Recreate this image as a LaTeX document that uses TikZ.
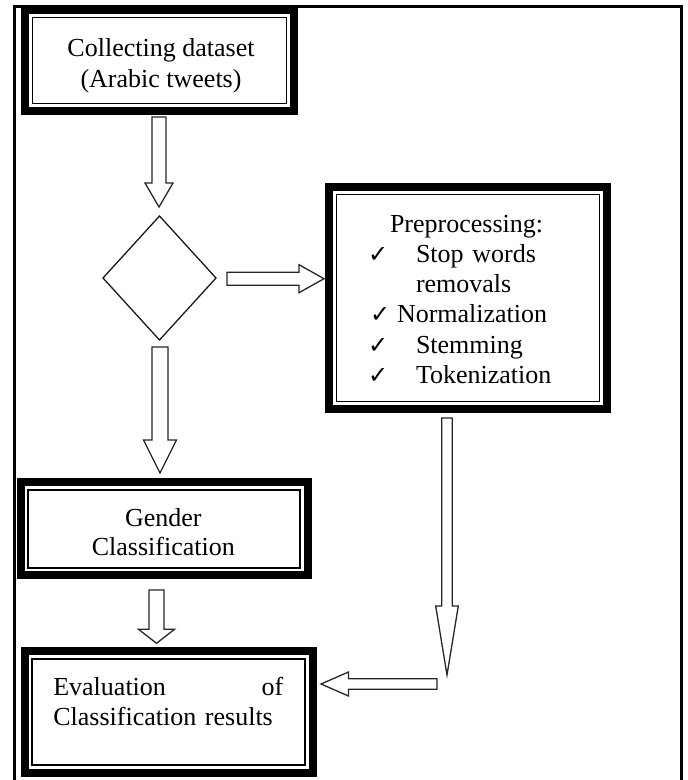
\documentclass[tikz,border=0pt]{standalone}
\usepackage{fontspec}
\setmainfont{Liberation Serif}
\newfontfamily\chkfont{DejaVu Sans}
\usetikzlibrary{shapes.geometric,calc}
\newcommand\chk{{\chkfont\fontsize{24}{26}\selectfont ✓}}
% vertical (down) block arrow: start, tip, shaft half width, head half width, head length
\newcommand\blkv[5]{\draw[blk] ($(#1)+(-#3,0)$) -- ($(#2)+(-#3,#5)$) -- ($(#2)+(-#4,#5)$) -- (#2) -- ($(#2)+(#4,#5)$) -- ($(#2)+(#3,#5)$) -- ($(#1)+(#3,0)$) -- cycle;}
% horizontal block arrow: start, tip, shaft half height, head half height, signed head length
\newcommand\blkh[5]{\draw[blk] ($(#1)+(0,#3)$) -- ($(#2)+(#5,#3)$) -- ($(#2)+(#5,#4)$) -- (#2) -- ($(#2)+(#5,-#4)$) -- ($(#2)+(#5,-#3)$) -- ($(#1)+(0,-#3)$) -- cycle;}
\begin{document}
\begin{tikzpicture}[x=1pt,y=-1pt,
  boxn/.style={draw=none,inner sep=0pt,outer sep=0pt},
  thickb/.style={line width=8pt,line join=miter},
  thinb/.style={line width=1.8pt,line join=miter},
  blk/.style={draw=black!85,line width=1.3pt,fill=white,line join=miter},
  dia/.style={draw=black!90,diamond,line width=1.3pt,inner sep=0pt,outer sep=0pt,minimum width=113pt,minimum height=124pt},
  txt/.style={inner sep=0pt,anchor=north,font=\fontsize{26}{30}\selectfont}]
\useasboundingbox (0,0) rectangle (688,780);
% page frame
\draw[line width=2.4pt,line join=miter] (14.5,782) -- (14.5,6.5) -- (681.3,6.5) -- (681.3,782);
% boxes
\node[boxn,minimum width=277pt,minimum height=109pt] (b1) at (159.5,60.5) {};
\node[dia] (dia) at (159.5,278) {};
\node[boxn,minimum width=286pt,minimum height=230pt] (pre) at (468,298) {};
\node[boxn,minimum width=295pt,minimum height=101pt] (gen) at (164.2,528.8) {};
\node[boxn,minimum width=296pt,minimum height=129.4pt] (eva) at (168.7,712) {};
\foreach \n in {b1,pre,gen,eva}{
  \draw[thickb] ([shift={(4pt,-4pt)}]\n.north west) rectangle ([shift={(-4pt,4pt)}]\n.south east);
  \draw[thinb] ([shift={(11.5pt,-11.5pt)}]\n.north west) rectangle ([shift={(-11.5pt,11.5pt)}]\n.south east);
}
% texts
\node[txt,align=center,font=\fontsize{26}{31}\selectfont] (b1t) at (161,36.5) {\rule{0pt}{20pt}Collecting dataset\\(Arabic tweets)};
\node[txt,text width=230pt,align=left,font=\fontsize{26}{30.2}\selectfont] (pret) at (468,212) {%
\rule{0pt}{20pt}\hspace*{37pt}Preprocessing:\\
\hspace*{15pt}\makebox[48pt][l]{\chk}Stop words\\
\hspace*{63pt}removals\\
\hspace*{17pt}\makebox[27pt][l]{\chk}Normalization\\
\hspace*{15pt}\makebox[48pt][l]{\chk}Stemming\\
\hspace*{15pt}\makebox[48pt][l]{\chk}Tokenization};
\node[txt,align=center,font=\fontsize{26}{29}\selectfont] (gent) at (163.3,506.5) {\rule{0pt}{20pt}Gender\\Classification};
\node[txt,text width=230pt,align=left] (evat) at (168.3,675) {\rule{0pt}{20pt}Evaluation\hfill of\\Classification results};
% connectors
\coordinate (a1s) at ($(b1.south)+(-0.5pt,-2pt)$);
\coordinate (a1t) at ($(dia.north)+(-0.5pt,9pt)$);
\blkv{a1s}{a1t}{7pt}{14pt}{24pt}
\coordinate (a2s) at ($(dia.east)+(11pt,-0.7pt)$);
\coordinate (a2t) at ($(pre.west |- a2s)+(-1pt,0)$);
\blkh{a2s}{a2t}{6.5pt}{14pt}{-25pt}
\coordinate (a3s) at ($(pre.south)+(-21pt,-5pt)$);
\coordinate (a3t) at ($(a3s)+(0,-257pt)$);
\blkv{a3s}{a3t}{5.3pt}{11.3pt}{69pt}
\coordinate (a4s) at ($(eva.east)+(120.3pt,28pt)$);
\coordinate (a4t) at ($(eva.east)+(4.3pt,28pt)$);
\blkh{a4s}{a4t}{5.2pt}{12pt}{27.5pt}
\coordinate (a5s) at ($(dia.south)+(0.5pt,-7pt)$);
\coordinate (a5t) at ($(gen.north -| a5s)+(0,5.3pt)$);
\blkv{a5s}{a5t}{8pt}{16.5pt}{33pt}
\coordinate (a6s) at ($(gen.south)+(-7.7pt,-10.7pt)$);
\coordinate (a6t) at ($(eva.north -| a6s)+(0,4pt)$);
\blkv{a6s}{a6t}{7.5pt}{18pt}{14pt}
\end{tikzpicture}
\end{document}
